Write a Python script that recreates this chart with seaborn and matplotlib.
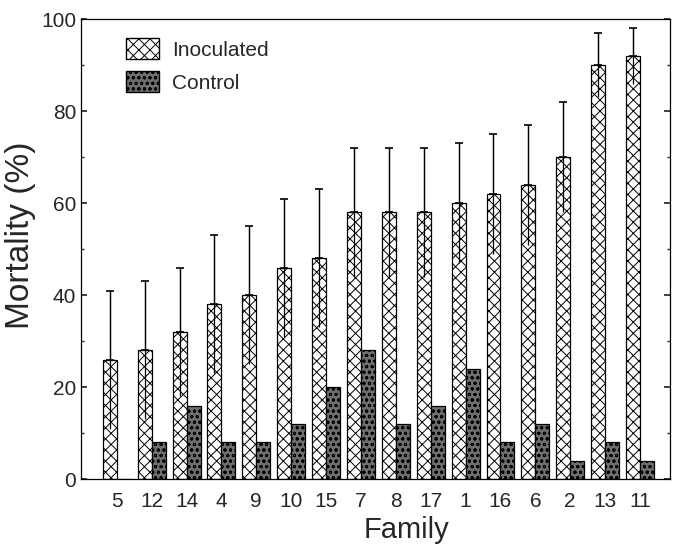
import matplotlib
matplotlib.use("Agg")
import matplotlib.pyplot as plt
import seaborn as sns
import pandas as pd
import numpy as np
from matplotlib.ticker import MultipleLocator
from matplotlib.patches import Patch

families = ["5", "12", "14", "4", "9", "10", "15", "7", "8", "17", "1", "16", "6", "2", "13", "11"]
inoculated = [26, 28, 32, 38, 40, 46, 48, 58, 58, 58, 60, 62, 64, 70, 90, 92]
inoc_err = [15, 15, 14, 15, 15, 15, 15, 14, 14, 14, 13, 13, 13, 12, 7, 6]
control = [0, 8, 16, 8, 8, 12, 20, 28, 12, 16, 24, 8, 12, 4, 8, 4]
groups = ["Inoculated", "Control"]

sns.set_theme(style="white")
plt.rcParams["font.family"] = ["Liberation Sans", "DejaVu Sans"]
plt.rcParams["hatch.linewidth"] = 0.7

df = pd.DataFrame({
    "Family": families * 2,
    "Mortality": inoculated + control,
    "Treatment": [groups[0]] * len(families) + [groups[1]] * len(families),
})

fig = plt.figure(figsize=(6.74, 5.47), dpi=100)
ax = fig.add_axes([0.120, 0.124, 0.874, 0.841])

ctrl_face = "#6e6e6e"
sns.barplot(data=df, x="Family", y="Mortality", hue="Treatment", order=families,
            hue_order=groups, width=0.8, errorbar=None, ax=ax, legend=False,
            palette=["white", ctrl_face], saturation=1)

n = len(families)
bars = list(ax.patches)[:2 * n]
for i, p in enumerate(bars):
    p.set_edgecolor("black")
    p.set_linewidth(0.9)
    if i < n:
        p.set_facecolor("white")
        p.set_hatch("xxx")
    else:
        p.set_facecolor(ctrl_face)
        p.set_hatch("ooo")

xs = [p.get_x() + p.get_width() / 2 for p in bars[:n]]
ax.errorbar(xs, inoculated, yerr=inoc_err, fmt="none", ecolor="black", elinewidth=0.9, capsize=0)
ax.errorbar(xs, inoculated, yerr=[np.zeros(n), inoc_err], fmt="none", ecolor="black",
            elinewidth=0.9, capsize=3, capthick=1.2)

ax.set_xlim(-1.03, 15.86)
ax.set_ylim(0, 100)
ax.yaxis.set_major_locator(MultipleLocator(20))
ax.yaxis.set_minor_locator(MultipleLocator(10))
ax.tick_params(axis="y", which="both", direction="in", right=True, left=True, length=4, labelsize=15)
ax.tick_params(axis="y", which="minor", length=2)
ax.tick_params(axis="x", length=0, labelsize=15, pad=9)
for s in ax.spines.values():
    s.set_visible(True)
    s.set_color("black")
    s.set_linewidth(0.9)

ax.set_xlabel("Family", fontsize=21)
ax.set_ylabel("Mortality (%)", fontsize=24)
ax.xaxis.set_label_coords(0.553, -0.08)
ax.yaxis.set_label_coords(-0.077, 0.53)

handles = [Patch(facecolor="white", edgecolor="black", hatch="xxx", label=groups[0]),
           Patch(facecolor=ctrl_face, edgecolor="black", hatch="ooo", label=groups[1])]
ax.legend(handles=handles, loc="upper left", bbox_to_anchor=(0.045, 1.0), frameon=False,
          prop={"size": 15},
          handlelength=1.6, handleheight=1.2, handletextpad=0.6, labelspacing=0.55)

fig.savefig("out.png", dpi=100)
